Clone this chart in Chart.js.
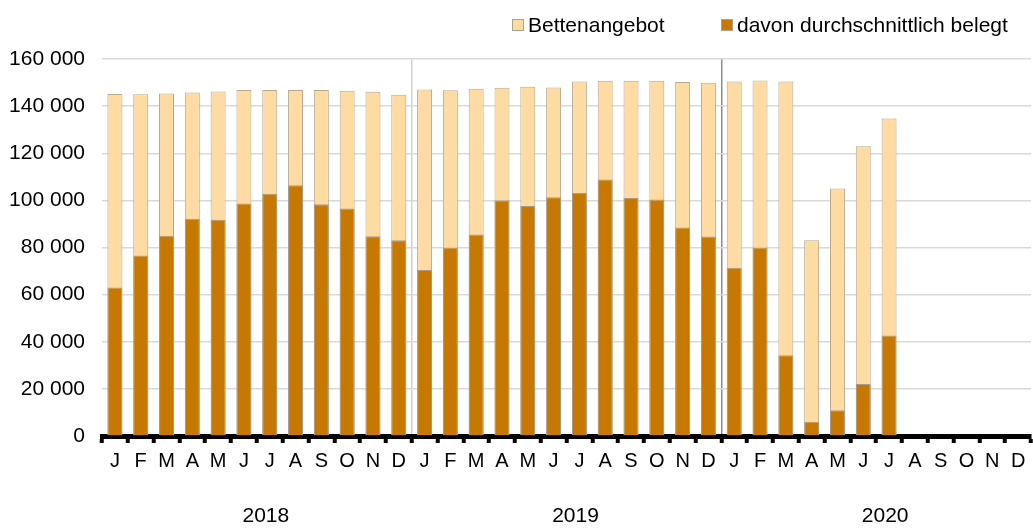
<!DOCTYPE html>
<html>
<head>
<meta charset="utf-8">
<script src="https://cdn.jsdelivr.net/npm/chart.js@4"></script>
<style>
  html, body { margin: 0; padding: 0; background: #fff; }
  #wrap { position: relative; width: 1033px; height: 528px; }
  .legend { position: absolute; top: 13px; font: 21px "Liberation Sans", Arial, sans-serif; color: #000; display: flex; align-items: center; }
  .legend span.box { display: inline-block; width: 10px; height: 10px; margin-right: 4px; border: 1px solid #b0a08c; }
</style>
</head>
<body>
<div id="wrap">
  <canvas id="chart"></canvas>
  <div class="legend" style="left:512px"><span class="box" style="background:#FFDBA4"></span>Bettenangebot</div>
  <div class="legend" style="left:721px"><span class="box" style="background:#C77800"></span>davon durchschnittlich belegt</div>
</div>
<script>
const years = ['2018', '2019', '2020'];
const months = ['J', 'F', 'M', 'A', 'M', 'J', 'J', 'A', 'S', 'O', 'N', 'D'];
const yTicks = [0, 20000, 40000, 60000, 80000, 100000, 120000, 140000, 160000];

const bettenangebot = [
    145100, 145000, 145400, 145800, 146200, 146800, 146800, 146800, 146800, 146500, 146100, 144800,
    147100, 146700, 147400, 147800, 148200, 147900, 150400, 150800, 150800, 150800, 150200, 149900,
    150500, 150900, 150400, 83100, 105000, 123000, 134800, null, null, null, null, null
];
const belegt = [
    63000, 76600, 85000, 92200, 91800, 98700, 102800, 106400, 98400, 96500, 84800, 83100,
    70500, 80000, 85500, 100100, 97600, 101300, 103100, 108900, 101000, 100400, 88500, 84700,
    71400, 80000, 34300, 6000, 10900, 22100, 42700, null, null, null, null, null
];

const labels = years.flatMap(() => months);
const family = '"Liberation Sans", Arial, sans-serif';

// thousand separator with a space
function fmt(v) {
    return String(v).replace(/\B(?=(\d{3})+(?!\d))/g, ' ');
}

new Chart(document.getElementById('chart'), {
    type: 'bar',
    data: {
        labels: labels,
        datasets: [
            {
                label: 'davon durchschnittlich belegt',
                data: belegt,
                backgroundColor: '#C77800',
                borderColor: '#a8998a',
                borderWidth: 1,
                grouped: false
            },
            {
                label: 'Bettenangebot',
                data: bettenangebot,
                backgroundColor: '#FFDBA4',
                borderColor: '#b8a88e',
                borderWidth: 1,
                grouped: false
            }
        ]
    },
    options: {
        responsive: true,
        maintainAspectRatio: false,
        animation: false,
        categoryPercentage: 1,
        barPercentage: 0.58,
        layout: { padding: { top: 59, left: 7, right: 2, bottom: 0 } },
        plugins: { legend: { display: false }, tooltip: { enabled: false } },
        scales: {
            x: {
                grid: {
                    offset: true,
                    color: ctx => ctx.index === 12 ? '#d0d0d0' : (ctx.index === 24 ? '#8c8c8c' : 'rgba(0,0,0,0)'),
                    lineWidth: 1.5,
                    tickColor: '#000',
                    tickWidth: 4,
                    tickLength: 7
                },
                border: { color: '#000', width: 5 },
                ticks: { color: '#000', font: { family: family, size: 20 }, padding: 6, maxRotation: 0, autoSkip: false },
                afterFit: axis => { axis.height = 36; }
            },
            x2: {
                type: 'category',
                labels: years,
                offset: true,
                position: 'bottom',
                grid: { display: false },
                border: { display: false },
                ticks: { color: '#000', font: { family: family, size: 21 }, padding: 24, labelOffset: 9 },
                afterFit: axis => { axis.height = 56; }
            },
            y: {
                min: 0,
                max: 160000,
                afterBuildTicks: axis => { axis.ticks = yTicks.map(v => ({ value: v })); },
                grid: { color: '#d9d9d9', lineWidth: 1.5, drawTicks: false },
                border: { display: false },
                ticks: { color: '#000', font: { family: family, size: 21 }, padding: 17, callback: v => fmt(v) },
                afterFit: axis => { axis.width = 95; }
            }
        }
    }
});
</script>
</body>
</html>
